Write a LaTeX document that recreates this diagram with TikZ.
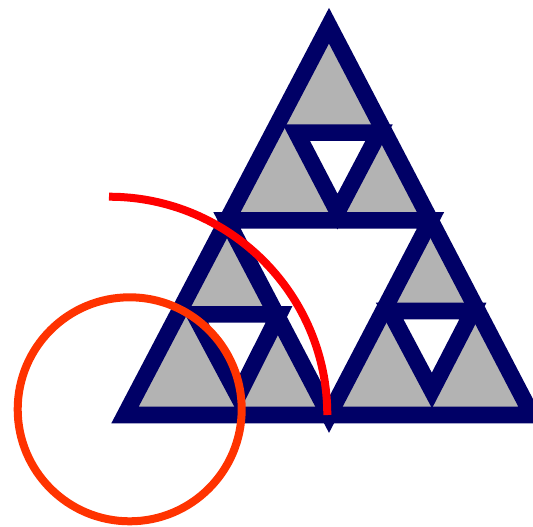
\documentclass[tikz,border=0pt]{standalone}
\definecolor{navyc}{RGB}{0,0,102}
\definecolor{grayc}{RGB}{179,179,179}
\definecolor{orangec}{RGB}{255,51,0}
\begin{document}
\begin{tikzpicture}[x=0.75pt,y=-0.75pt,
  tri/.style={draw=navyc,line width=12.4pt,line join=miter,miter limit=10},
  redarc/.style={draw=red,line width=6pt},
  ring/.style={draw=orangec,line width=6pt}]
\useasboundingbox (0,0) rectangle (533,526);
\clip (0,0) rectangle (533,526);
% outer triangle
\coordinate (A) at (329,25.7);
\coordinate (B) at (125,415);
\coordinate (C) at (532,415);
% level-1 hole
\coordinate (D) at (227,220.35);
\coordinate (E) at (430.5,220.35);
\coordinate (F) at (329,415);
% level-2 holes
\coordinate (T1) at (296.4,132.7);
\coordinate (T2) at (379,132.7);
\coordinate (T3) at (337.5,211.6);
\coordinate (R1) at (389.7,311);
\coordinate (R2) at (472.9,311);
\coordinate (R3) at (431.9,390.5);
\coordinate (L1) at (194.5,314.4);
\coordinate (L2) at (279,314.4);
\coordinate (L3) at (238,396);
\filldraw[tri,fill=grayc] (A) -- (B) -- (C) -- cycle;
\filldraw[tri,fill=white] (D) -- (E) -- (F) -- cycle;
\filldraw[tri,fill=white] (T1) -- (T2) -- (T3) -- cycle;
\filldraw[tri,fill=white] (R1) -- (R2) -- (R3) -- cycle;
\filldraw[tri,fill=white] (L1) -- (L2) -- (L3) -- cycle;
% red quarter arc
\coordinate (arcstart) at (109,196.7);
\draw[redarc] (arcstart) arc[start angle=270,end angle=360,radius=218.3];
% orange circle
\coordinate (O) at (129.7,409.3);
\draw[ring] (O) circle[radius=112];
\end{tikzpicture}
\end{document}
